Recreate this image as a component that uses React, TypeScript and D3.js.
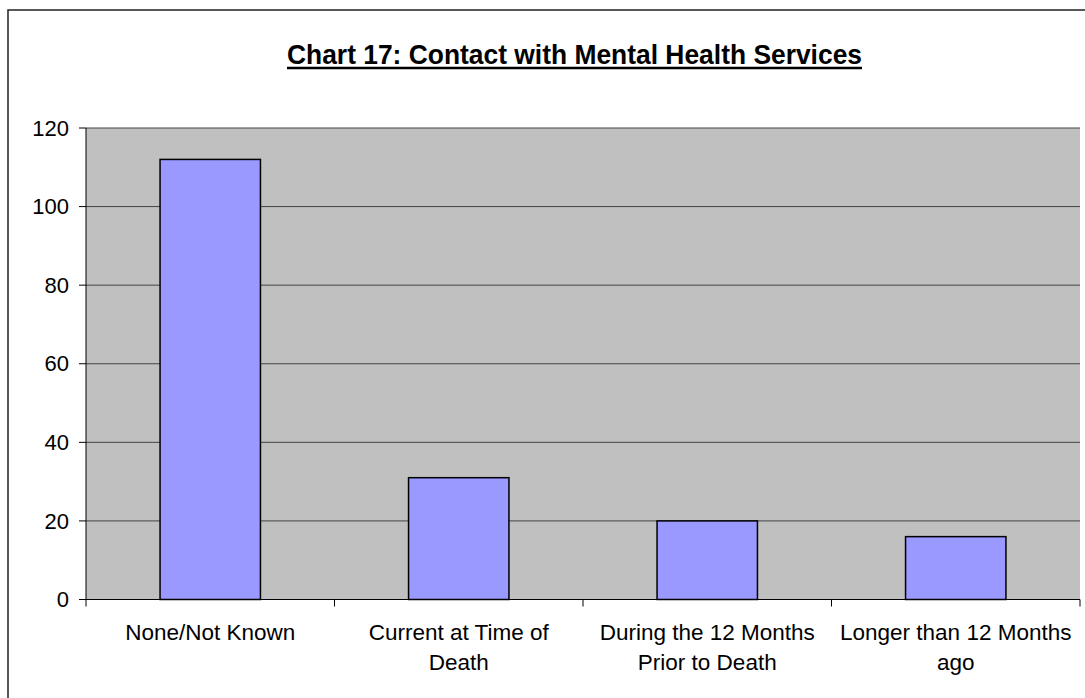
import React from "react";
import * as d3 from "d3";

const categories: string[][] = [
  ["None/Not Known"],
  ["Current at Time of", "Death"],
  ["During the 12 Months", "Prior to Death"],
  ["Longer than 12 Months", "ago"],
];
const values: number[] = [112, 31, 20, 16];
const yTicks: number[] = [0, 20, 40, 60, 80, 100, 120];
const title = "Chart 17: Contact with Mental Health Services";

const W = 1085;
const H = 698;
const plot = { left: 86, right: 1080, top: 128, bottom: 599.5 };
const FONT = "'Liberation Sans', Arial, sans-serif";

export default function App() {
  const x = d3
    .scaleBand<number>()
    .domain(values.map((_, i) => i))
    .range([plot.left, plot.right]);
  const y = d3.scaleLinear().domain([0, 120]).range([plot.bottom, plot.top]);
  const barW = x.bandwidth() * 0.404;
  const boundaries = d3.range(categories.length + 1).map((i) => plot.left + i * x.step());

  return (
    <svg
      width={W}
      height={H}
      style={{ position: "absolute", left: 0, top: 0, background: "#fff" }}
      fontFamily={FONT}
    >
      <rect x={8} y={10} width={W + 20} height={H + 20} fill="#fff" stroke="#222" strokeWidth={1.5} />
      <text
        x={574.5}
        y={64}
        textAnchor="middle"
        fontSize={27}
        fontWeight="bold"
        fill="#000"
        textLength={575}
        lengthAdjust="spacingAndGlyphs"
      >
        {title}
      </text>
      <line x1={287} x2={862} y1={68} y2={68} stroke="#000" strokeWidth={2.5} />
      <rect
        x={plot.left}
        y={plot.top}
        width={plot.right - plot.left}
        height={plot.bottom - plot.top}
        fill="#C0C0C0"
      />
      {yTicks.map((t) => (
        <g key={t}>
          {t > 0 && (
            <line x1={plot.left} x2={plot.right} y1={y(t)} y2={y(t)} stroke="#444" strokeWidth={1} />
          )}
          <line x1={plot.left - 7} x2={plot.left} y1={y(t)} y2={y(t)} stroke="#000" strokeWidth={1} />
          <text x={69} y={y(t)} dy="0.35em" textAnchor="end" fontSize={22} fill="#000">
            {t}
          </text>
        </g>
      ))}
      {values.map((v, i) => (
        <rect
          key={i}
          x={(x(i) as number) + x.bandwidth() / 2 - barW / 2}
          y={y(v)}
          width={barW}
          height={y(0) - y(v)}
          fill="#9999FF"
          stroke="#000"
          strokeWidth={1.5}
        />
      ))}
      <line x1={plot.left} x2={plot.left} y1={plot.top} y2={plot.bottom} stroke="#000" strokeWidth={1} />
      <line x1={plot.left} x2={plot.right} y1={plot.bottom} y2={plot.bottom} stroke="#000" strokeWidth={1} />
      {boundaries.map((b, i) => (
        <line key={i} x1={b} x2={b} y1={plot.bottom} y2={plot.bottom + 7} stroke="#000" strokeWidth={1} />
      ))}
      {categories.map((lines, i) => (
        <text
          key={i}
          x={(x(i) as number) + x.bandwidth() / 2}
          y={640}
          textAnchor="middle"
          fontSize={22.5}
          fill="#000"
        >
          {lines.map((l, j) => (
            <tspan key={j} x={(x(i) as number) + x.bandwidth() / 2} y={640 + j * 30}>
              {l}
            </tspan>
          ))}
        </text>
      ))}
    </svg>
  );
}
